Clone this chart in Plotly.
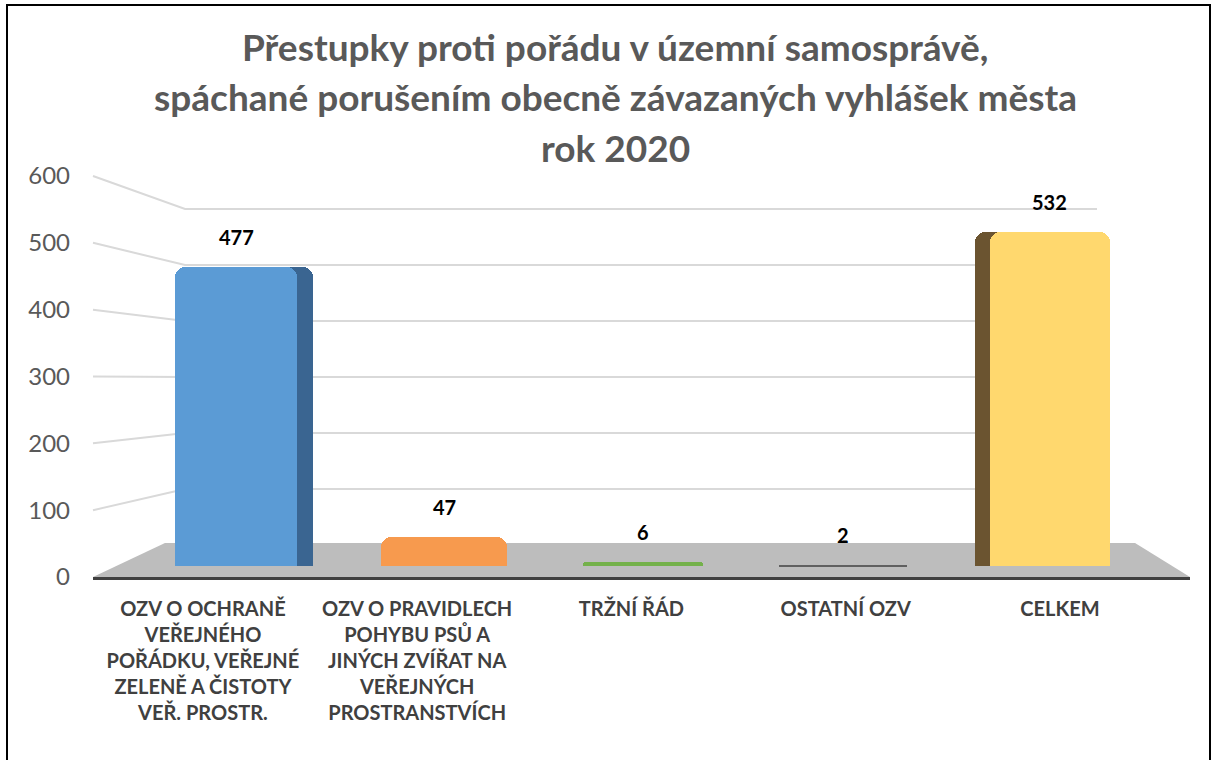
import plotly.graph_objects as go

# ---------------- data ----------------
categories = [
    "OZV O OCHRANĚ<br>VEŘEJNÉHO<br>POŘÁDKU, VEŘEJNÉ<br>ZELENĚ A ČISTOTY<br>VEŘ. PROSTR.",
    "OZV O PRAVIDLECH<br>POHYBU PSŮ A<br>JINÝCH ZVÍŘAT NA<br>VEŘEJNÝCH<br>PROSTRANSTVÍCH",
    "TRŽNÍ ŘÁD",
    "OSTATNÍ OZV",
    "CELKEM",
]
values = [477, 47, 6, 2, 532]
y_ticks = [0, 100, 200, 300, 400, 500, 600]
title_lines = [
    "Přestupky proti pořádu v územní samosprávě,",
    "spáchané porušením obecně závazaných vyhlášek města",
    "rok 2020",
]

# ---------------- style ----------------
front_colors = ["#5B9BD5", "#F79A4E", "#74B14A", "#606060", "#FFD86E"]
side_colors = ["#3A6591", "#C06A2C", "#4E7D31", "#3E3E3E", "#6B5430"]
front_width = [0.612, 0.627, 0.60, 0.637, 0.60]
front_offset = [-0.346, -0.311, -0.30, -0.316, -0.261]
side_width = [0.692, 0.627, 0.60, 0.637, 0.677]
side_offset = [-0.346, -0.311, -0.30, -0.316, -0.336]

W, H = 1217, 760
L, R, T, B = 93, 1190, 176, 577  # plot area in pixels


def px(x):
    return (x - L) / (R - L)


def py(y):
    return (B - y) / (B - T)


xs = list(range(len(values)))

fig = go.Figure()
# side / depth faces
fig.add_trace(go.Bar(
    x=xs, y=values, width=side_width, offset=side_offset,
    marker=dict(color=side_colors, line=dict(width=0), cornerradius=10),
    xaxis="x", yaxis="y2", hoverinfo="skip", showlegend=False,
))
# front faces
fig.add_trace(go.Bar(
    x=xs, y=values, width=front_width, offset=front_offset,
    marker=dict(color=front_colors, line=dict(width=0), cornerradius=10),
    xaxis="x", yaxis="y2", showlegend=False,
))
# carrier for category labels on the front axis
fig.add_trace(go.Scatter(
    x=xs, y=[0] * len(xs), mode="markers", marker=dict(opacity=0),
    xaxis="x2", yaxis="y", hoverinfo="skip", showlegend=False,
))

shapes = []
# floor
shapes.append(dict(
    type="path", xref="paper", yref="paper", layer="below",
    path=f"M {px(93):.4f},{py(577):.4f} L {px(165):.4f},{py(543):.4f} L {px(1135):.4f},{py(543):.4f} L {px(1190):.4f},{py(577):.4f} Z",
    fillcolor="#BDBDBD", line=dict(width=0),
))
# perspective gridlines
for v in y_ticks[1:]:
    y_front = B - v * (B - T) / 600
    y_back = 545 - 0.56 * v
    shapes.append(dict(
        type="path", xref="paper", yref="paper", layer="below",
        path=f"M {px(93):.4f},{py(y_front):.4f} L {px(185):.4f},{py(y_back):.4f} L {px(1097):.4f},{py(y_back):.4f}",
        line=dict(color="#D9D9D9", width=2),
    ))
# outer border
shapes.append(dict(
    type="rect", xref="paper", yref="paper",
    x0=px(7), x1=px(1210), y0=py(770), y1=py(5),
    line=dict(color="black", width=2), fillcolor="rgba(0,0,0,0)",
))

annotations = []
for i, v in enumerate(values):
    annotations.append(dict(
        x=i + front_offset[i] + front_width[i] / 2, y=v, xref="x", yref="y2",
        text=f"<b>{v}</b>", showarrow=False, yanchor="bottom", yshift=16,
        font=dict(family="Lato", size=20, color="black"),
    ))
title_y = [47, 97, 148]
for line, yy in zip(title_lines, title_y):
    annotations.append(dict(
        x=px(615), y=py(yy), xref="paper", yref="paper",
        text=f"<b>{line}</b>", showarrow=False, xanchor="center", yanchor="middle",
        font=dict(family="Lato", size=37, color="#595959"),
    ))

fig.update_layout(
    width=W, height=H,
    margin=dict(l=L, r=W - R, t=T, b=H - B, pad=0),
    paper_bgcolor="white", plot_bgcolor="rgba(0,0,0,0)",
    barmode="overlay", bargap=0,
    shapes=shapes, annotations=annotations,
    xaxis=dict(
        range=[-0.757, 4.742], showticklabels=False, showgrid=False, zeroline=False,
        showline=True, linecolor="#404040", linewidth=3, fixedrange=True,
    ),
    xaxis2=dict(
        overlaying="x", anchor="y", side="bottom", range=[-0.513, 4.607],
        tickvals=xs, ticktext=[f"<b>{c}</b>" for c in categories],
        showgrid=False, zeroline=False, showline=False, ticks="",
        ticklabelstandoff=18,
        tickfont=dict(family="Lato", size=20, color="#404040"),
    ),
    yaxis=dict(
        range=[0, 600], tickvals=y_ticks, showgrid=False, zeroline=False,
        showline=False, ticks="", ticklabelstandoff=22,
        tickfont=dict(family="Lato", size=24, color="#595959"),
    ),
    yaxis2=dict(
        overlaying="y", anchor="x", range=[-17.5, 622],
        showticklabels=False, showgrid=False, zeroline=False, showline=False,
    ),
)

fig.write_html("out.html", config={"displayModeBar": False},
               post_script="document.body.style.margin='0px';")
